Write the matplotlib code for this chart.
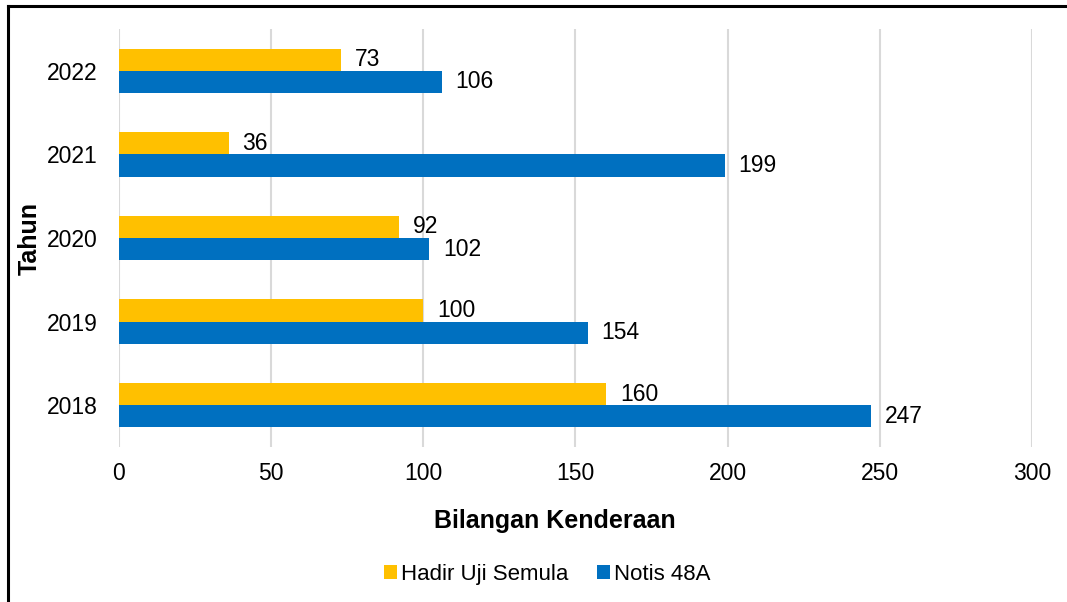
import numpy as np
import matplotlib.pyplot as plt
from matplotlib.lines import Line2D

plt.rcParams['font.family'] = ['Liberation Sans', 'DejaVu Sans']

# data
years = ['2018', '2019', '2020', '2021', '2022']
hadir_uji = [160, 100, 92, 36, 73]
notis_48a = [247, 154, 102, 199, 106]

c_yellow = '#FFC000'
c_blue = '#0070C0'
fs = 16.5

fig = plt.figure(figsize=(10.67, 6.02), dpi=100)
ax = fig.add_axes([0.1115, 0.2575, 0.8557, 0.6943])

y = np.arange(len(years))
h = 0.265
b1 = ax.barh(y + h / 2, hadir_uji, height=h, color=c_yellow, label='Hadir Uji Semula', zorder=3)
b2 = ax.barh(y - h / 2, notis_48a, height=h, color=c_blue, label='Notis 48A', zorder=3)

for bars, vals in [(b1, hadir_uji), (b2, notis_48a)]:
    for bar, v in zip(bars, vals):
        ax.annotate(str(v), (bar.get_width(), bar.get_y() + bar.get_height() / 2),
                    xytext=(10, 0), textcoords='offset points',
                    ha='left', va='center', fontsize=fs, color='#000000')

ax.set_xlim(0, 300)
ax.set_ylim(-0.5, len(years) - 0.5)
ax.set_xticks(np.arange(0, 301, 50))
ax.set_yticks(y)
ax.set_yticklabels(years)
ax.tick_params(length=0, labelsize=fs)
ax.tick_params(axis='y', pad=15.5)
ax.tick_params(axis='x', pad=11)
ax.xaxis.grid(True, color='#D9D9D9', linewidth=1.5, zorder=0)
for s in ax.spines.values():
    s.set_visible(False)

ax.set_xlabel('Bilangan Kenderaan', fontsize=18, fontweight='bold')
ax.set_ylabel('Tahun', fontsize=18, fontweight='bold')
ax.xaxis.set_label_coords(0.477, -0.177)
ax.yaxis.set_label_coords(-0.098, 0.5)
ax.xaxis.label.set_va('center')
ax.yaxis.label.set_va('center')

ax.legend(loc='center', bbox_to_anchor=(0.469, -0.304), ncol=2, frameon=False,
          fontsize=fs - 0.5, handlelength=0.6, handleheight=0.6, handletextpad=0.15,
          columnspacing=1.3)

# outer frame (left and top edges)
fig.add_artist(Line2D([8 / 1067, 8 / 1067], [0, 1 - 6 / 602], transform=fig.transFigure,
                      color='black', linewidth=2.2))
fig.add_artist(Line2D([8 / 1067, 1], [1 - 6 / 602, 1 - 6 / 602], transform=fig.transFigure,
                      color='black', linewidth=2.2))

fig.savefig('out.png', dpi=100)
